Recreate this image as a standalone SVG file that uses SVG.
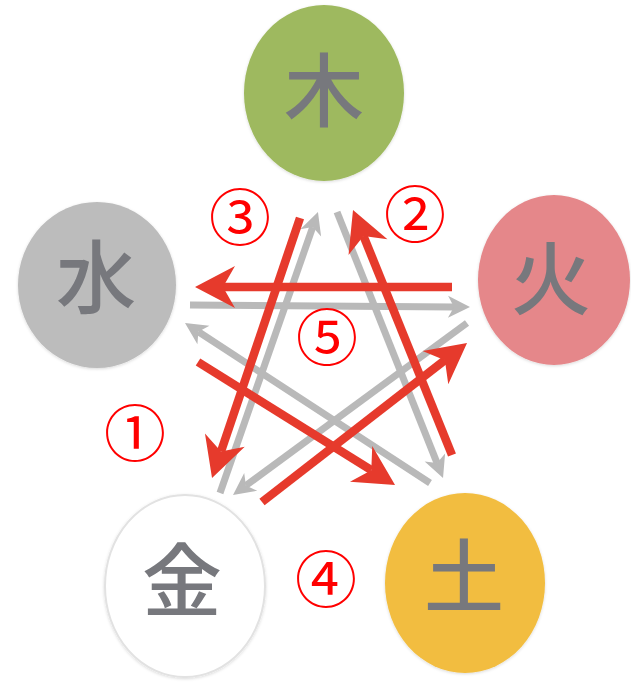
<svg xmlns="http://www.w3.org/2000/svg" width="631" height="685" viewBox="0 0 631 685">
<style>
.el{font-family:"Noto Sans CJK JP","Noto Sans CJK SC",sans-serif;font-size:80px;font-weight:500;fill:#77787d;text-anchor:middle}
.num{font-family:"Noto Sans CJK JP","Noto Sans CJK SC",sans-serif;font-size:62px;fill:#ff0000;text-anchor:middle}
.red{stroke:#e63a2c;stroke-width:8.5;fill:none;marker-end:url(#rh)}
.gray{stroke:#b9b9b9;stroke-width:7;fill:none;marker-end:url(#gh)}
</style>
<defs>
<marker id="rh" markerUnits="userSpaceOnUse" markerWidth="40" markerHeight="42" refX="12" refY="21" orient="auto" overflow="visible">
<path d="M40,21 L0,0 L12,21 L0,42 Z" fill="#e63a2c"/>
</marker>
<marker id="gh" markerUnits="userSpaceOnUse" markerWidth="22" markerHeight="22" refX="6" refY="11" orient="auto" overflow="visible">
<path d="M22,11 L0,0 L6,11 L0,22 Z" fill="#b9b9b9"/>
</marker>
<filter id="sh" x="-10%" y="-10%" width="120%" height="120%"><feDropShadow dx="0" dy="1" stdDeviation="1.5" flood-color="#000" flood-opacity="0.15"/></filter>
</defs>
<g id="wood"><ellipse cx="324" cy="93" rx="80" ry="88" fill="#9eb95e" filter="url(#sh)"/><text class="el" x="324" y="120">木</text></g>
<g id="water"><ellipse cx="97" cy="285" rx="79" ry="83" fill="#bcbcbc" filter="url(#sh)"/><text class="el" x="96" y="307">水</text></g>
<g id="fire"><ellipse cx="554" cy="280" rx="76" ry="85" fill="#e5878a" filter="url(#sh)"/><text class="el" x="551" y="308">火</text></g>
<g id="metal"><ellipse cx="185" cy="586" rx="80" ry="91" fill="#ffffff" stroke="#e2e2e2" stroke-width="2" filter="url(#sh)"/><text class="el" x="182" y="610">金</text></g>
<g id="earth"><ellipse cx="465" cy="583" rx="80" ry="90" fill="#f2bd3f" filter="url(#sh)"/><text class="el" x="464" y="606">土</text></g>
<g id="connectors">
<line class="gray" x1="190" y1="305" x2="454" y2="306.9"/>
<line class="gray" x1="220" y1="493" x2="312.7" y2="227.1"/>
<line class="gray" x1="337" y1="212" x2="437.1" y2="463.1"/>
<line class="gray" x1="467" y1="323" x2="245.9" y2="485.5"/>
<line class="gray" x1="430" y1="483" x2="198.4" y2="331.8"/>
<line class="red" x1="452" y1="287" x2="223" y2="287"/>
<line class="red" x1="452" y1="455" x2="363.5" y2="236"/>
<line class="red" x1="300" y1="218" x2="221" y2="451.5"/>
<line class="red" x1="198" y1="362" x2="371.3" y2="470.2"/>
<line class="red" x1="262" y1="502" x2="444.9" y2="360.2"/>
</g>
<g id="labels">
<text class="num" x="240" y="241">③</text>
<text class="num" x="415" y="238">②</text>
<text class="num" x="327" y="361">⑤</text>
<text class="num" x="135" y="457">①</text>
<text class="num" x="326" y="603">④</text>
</g>
</svg>
